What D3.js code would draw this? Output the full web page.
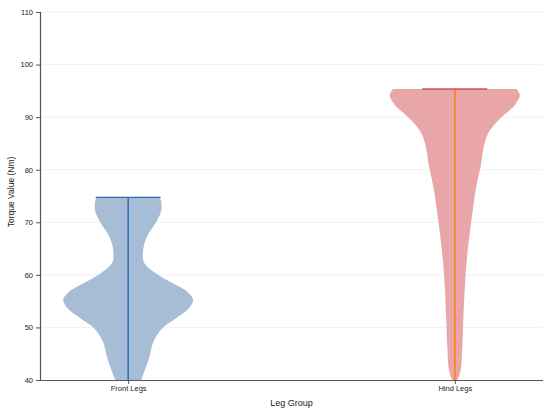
<!DOCTYPE html>
<html>
<head>
<meta charset="utf-8">
<script src="https://cdn.jsdelivr.net/npm/d3@7"></script>
<style>
  body { margin: 0; background: #fff; }
  text { font-family: "Liberation Sans", Arial, sans-serif; }
</style>
</head>
<body>
<svg id="chart" width="550" height="414"></svg>
<script>
// ---- Data ----
const categories = ["Front Legs", "Hind Legs"];
const yTicks = [40, 50, 60, 70, 80, 90, 100, 110];

// Front Legs: torque levels and relative density (violin profile)
const frontLevels  = [74.75, 74.3, 72.3, 69.8, 67.3, 64.7, 62.2, 59.7, 57.8, 56.8, 55.2, 53.6, 51.7, 49.8, 47.3, 44.1, 41.0, 40.0, 38.0, 36.0];
const frontDensity = [0.47, 0.50, 0.51, 0.42, 0.29, 0.23, 0.25, 0.50, 0.78, 0.91, 1.00, 0.93, 0.73, 0.52, 0.39, 0.32, 0.23, 0.20, 0.16, 0.12];
const frontMax = 74.75;

// Hind Legs
const hindLevels  = [95.35, 94.2, 92.25, 90.35, 88.45, 86.55, 84.0, 80.8, 78.3, 74.9, 71.7, 68.5, 65.4, 62.2, 59.0, 52.7, 46.3, 41.9, 40.3, 39.5];
const hindDensity = [0.95, 1.00, 0.92, 0.75, 0.60, 0.50, 0.44, 0.40, 0.355, 0.305, 0.27, 0.235, 0.205, 0.18, 0.16, 0.135, 0.115, 0.09, 0.05, 0.0];
const hindMax = 95.35;

const fills = ["#a6bdd5", "#e8a6a8"];
const lineColors = ["#2a6cb2", "#ff7f0e"];
const capColors = ["#2a6cb2", "#c9505a"];

// ---- Layout ----
const svg = d3.select("#chart");
const margin = { left: 40, right: 7, top: 12, bottom: 34 };
const W = 550, H = 414;
const x0 = margin.left, x1 = W - margin.right;
const yTop = margin.top, yBot = H - margin.bottom;

const x = d3.scalePoint().domain(categories).range([x0, x1]).padding(0.27);
const y = d3.scaleLinear().domain([40, 110]).range([yBot, yTop]);
const w = d3.scaleLinear().domain([0, 1]).range([0, 65]);

// gridlines
svg.append("g")
  .selectAll("line")
  .data(yTicks.slice(1))
  .join("line")
  .attr("x1", x0).attr("x2", x1)
  .attr("y1", d => y(d)).attr("y2", d => y(d))
  .attr("stroke", "#f0f0f0").attr("stroke-width", 1);

// clip
svg.append("defs").append("clipPath").attr("id", "plotclip")
  .append("rect").attr("x", x0).attr("y", yTop).attr("width", x1 - x0).attr("height", yBot - yTop);

const groups = [
  { cat: categories[0], levels: frontLevels, dens: frontDensity, max: frontMax },
  { cat: categories[1], levels: hindLevels, dens: hindDensity, max: hindMax }
];

const plot = svg.append("g").attr("clip-path", "url(#plotclip)");

groups.forEach((g, i) => {
  const pts = g.levels.map((v, j) => ({ v, d: g.dens[j] }));
  const cx = x(g.cat);
  const area = d3.area()
    .y(p => y(p.v))
    .x0(p => cx - w(p.d))
    .x1(p => cx + w(p.d))
    .curve(d3.curveCatmullRom.alpha(0.5));
  plot.append("path")
    .datum(pts)
    .attr("d", area)
    .attr("fill", fills[i])
    .attr("stroke", "none");
  // center line
  plot.append("line")
    .attr("x1", cx).attr("x2", cx)
    .attr("y1", y(g.max)).attr("y2", yBot)
    .attr("stroke", lineColors[i]).attr("stroke-width", 1.5);
  // cap
  plot.append("line")
    .attr("x1", cx - 32.5).attr("x2", cx + 32.5)
    .attr("y1", y(g.max)).attr("y2", y(g.max))
    .attr("stroke", capColors[i]).attr("stroke-width", 1.3);
});

// axes
const yAxis = svg.append("g")
  .attr("transform", `translate(${x0},0)`)
  .call(d3.axisLeft(y).tickValues(yTicks).tickSize(4).tickPadding(3));
const xAxis = svg.append("g")
  .attr("transform", `translate(0,${yBot})`)
  .call(d3.axisBottom(x).tickSize(4).tickPadding(2));
xAxis.select(".domain").attr("d", `M${x0},0.5H${x1}`);
[yAxis, xAxis].forEach(a => {
  a.selectAll(".domain").attr("stroke", "#555").attr("stroke-width", 1.2);
  a.selectAll(".tick line").attr("stroke", "#555");
  a.selectAll(".tick text").attr("fill", "#222").style("font-size", "7.5px")
    .style("font-family", "'Liberation Sans', Arial, sans-serif");
});

// axis labels
svg.append("text")
  .attr("x", (x0 + x1) / 2).attr("y", 406)
  .attr("text-anchor", "middle")
  .attr("fill", "#222")
  .style("font-size", "9px")
  .text("Leg Group");
svg.append("text")
  .attr("transform", `translate(14,${(yTop + yBot) / 2 - 4}) rotate(-90)`)
  .attr("text-anchor", "middle")
  .attr("fill", "#222")
  .style("font-size", "8.5px")
  .text("Torque Value (Nm)");
</script>
</body>
</html>
